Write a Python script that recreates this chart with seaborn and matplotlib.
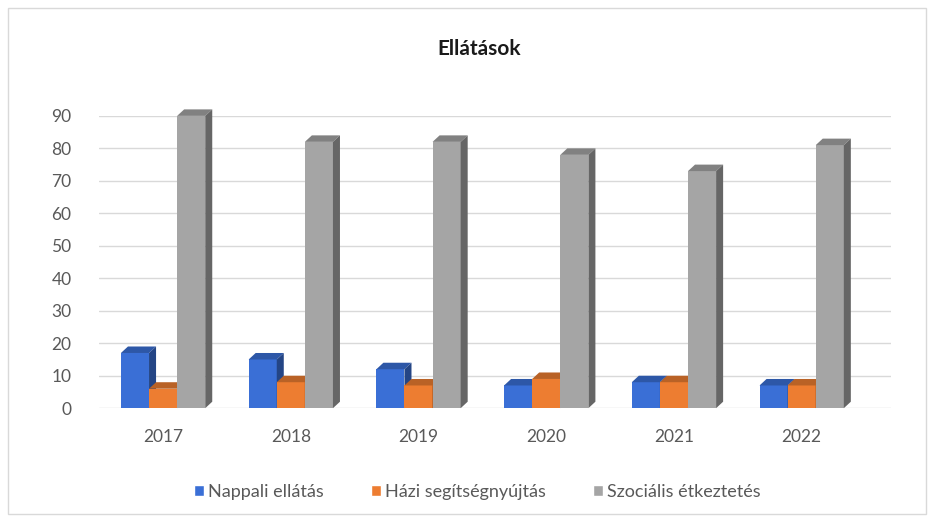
import pandas as pd
import seaborn as sns
import matplotlib.pyplot as plt
from matplotlib.patches import Polygon, Rectangle
from matplotlib.colors import to_rgb

# Data
years = ["2017", "2018", "2019", "2020", "2021", "2022"]
nappali = [17, 15, 12, 7, 8, 7]
hazi = [6, 8, 7, 9, 8, 7]
szocialis = [90, 82, 82, 78, 73, 81]
series = ["Nappali ellátás", "Házi segítségnyújtás", "Szociális étkeztetés"]
colors = ["#3A6FD6", "#ED7D31", "#A5A5A5"]

df = pd.DataFrame({
    "Év": years * 3,
    "Érték": nappali + hazi + szocialis,
    "Ellátás": [s for s in series for _ in years],
})

sns.set_theme(style="white")
plt.rcParams["font.family"] = ["Lato", "DejaVu Sans"]

fig = plt.figure(figsize=(9.36, 5.22), dpi=100)
ax = fig.add_axes([0.106, 0.218, 0.846, 0.56])
sns.barplot(data=df, x="Év", y="Érték", hue="Ellátás", palette=colors,
            width=0.66, saturation=1, ax=ax, legend=True, errorbar=None)

# fake 3D depth on each bar
dx, dy = 0.055, 2.0
for i, cont in enumerate(ax.containers):
    base = to_rgb(colors[i])
    side = tuple(c * 0.62 for c in base)
    top = tuple(c * 0.78 for c in base)
    for p in cont.patches:
        x, w, h = p.get_x(), p.get_width(), p.get_height()
        p.set_zorder(3 + i)
        p.set_linewidth(0)
        p.set_clip_on(False)
        ax.add_patch(Polygon([(x, h), (x + w, h), (x + w + dx, h + dy), (x + dx, h + dy)],
                             closed=True, color=top, lw=0, zorder=3 + i, clip_on=False))
        ax.add_patch(Polygon([(x + w, 0), (x + w + dx, dy), (x + w + dx, h + dy), (x + w, h)],
                             closed=True, color=side, lw=0, zorder=3 + i, clip_on=False))

ax.set_ylim(0, 90)
ax.set_yticks(range(0, 91, 10))
ax.set_xlim(-0.5, 5.7)
ax.yaxis.grid(True, color="#D9D9D9", linewidth=1)
ax.set_axisbelow(True)
for s in ax.spines.values():
    s.set_visible(False)
ax.tick_params(axis="y", length=0, labelsize=12.5, colors="#595959", pad=20)
ax.tick_params(axis="x", length=0, labelsize=12.5, colors="#595959", pad=15)
ax.set_xlabel("")
ax.set_ylabel("")

ax.legend(loc="center", bbox_to_anchor=(0.51, 0.057), bbox_transform=fig.transFigure,
          ncol=3, frameon=False, fontsize=13, handlelength=0.55, handleheight=0.55,
          handletextpad=0.25, columnspacing=2.6, labelcolor="#595959")

fig.suptitle("Ellátások", x=0.512, y=0.925, fontsize=15, fontweight="bold", color="#1A1A1A")
fig.patches.append(Rectangle((0.009, 0.015), 0.98, 0.97, transform=fig.transFigure,
                             fill=False, edgecolor="#D9D9D9", linewidth=1))

fig.savefig("out.png", dpi=100)
